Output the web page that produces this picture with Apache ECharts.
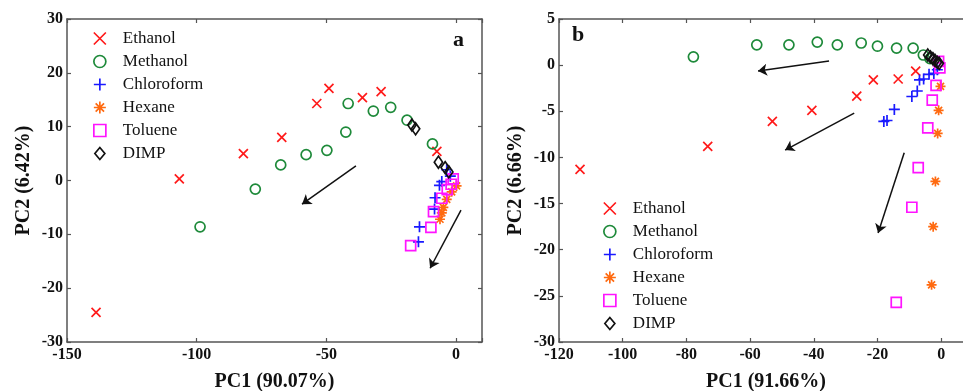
<!DOCTYPE html>
<html><head><meta charset="utf-8">
<script src="https://cdn.jsdelivr.net/npm/echarts@6/dist/echarts.min.js"></script>
<style>html,body{margin:0;padding:0;background:#fff}#c{width:963px;height:391px}</style>
</head><body><div id="c"></div>
<script>
const seriesNames = ['Ethanol', 'Methanol', 'Chloroform', 'Hexane', 'Toluene', 'DIMP'];
const panelLetters = ['a', 'b'];
const xTitles = ['PC1 (90.07%)', 'PC1 (91.66%)'];
const yTitles = ['PC2 (6.42%)', 'PC2 (6.66%)'];
// axis ranges [min, max, interval]
const xRangeA = [-150, 10, 50];
const yRangeA = [-30, 30, 10];
const xRangeB = [-120, 10, 20];
const yRangeB = [-30, 5, 5];

// ---- panel a ----
const ethanolA = [[-138.8, -24.5], [-106.7, 0.3], [-82.0, 5.0], [-67.2, 8.0], [-53.7, 14.3], [-49.0, 17.1], [-36.1, 15.4], [-28.9, 16.5], [-7.4, 5.4]];
const methanolA = [[-98.7, -8.6], [-77.4, -1.6], [-67.6, 2.9], [-57.8, 4.8], [-49.8, 5.6], [-42.5, 9.0], [-41.6, 14.3], [-31.9, 12.9], [-25.2, 13.6], [-18.9, 11.2], [-9.1, 6.8]];
const chloroformA = [[-14.5, -11.4], [-14.1, -8.6], [-8.3, -5.3], [-8.1, -3.2], [-6.4, -0.9], [-5.5, -0.2], [-3.6, 2.0], [-2.2, 0.8]];
const hexaneA = [[-6.2, -7.2], [-5.5, -6.0], [-4.9, -5.0], [-3.6, -3.5], [-1.7, -2.1], [0.2, -1.0]];
const tolueneA = [[-17.5, -12.1], [-9.7, -8.7], [-8.7, -5.8], [-5.5, -3.3], [-3.4, -1.7], [-1.9, -0.7], [-1.1, 0.3]];
const dimpA = [[-17.0, 10.3], [-15.6, 9.6], [-6.8, 3.4], [-4.2, 2.4], [-2.8, 1.6]];
const arrowsA = [[[-38.6, 2.7], [-59.4, -4.4]], [[1.9, -5.5], [-10.0, -16.3]]];

// ---- panel b ----
const ethanolB = [[-113.4, -11.3], [-73.3, -8.8], [-53.0, -6.1], [-40.6, -4.9], [-26.5, -3.35], [-21.3, -1.6], [-13.5, -1.5], [-8.0, -0.65]];
const methanolB = [[-77.8, 0.9], [-57.9, 2.2], [-47.8, 2.2], [-38.9, 2.5], [-32.6, 2.2], [-25.1, 2.4], [-20.0, 2.05], [-14.0, 1.85], [-8.8, 1.85], [-5.6, 1.1], [-3.5, 0.7]];
const chloroformB = [[-18.0, -6.1], [-17.0, -6.0], [-14.7, -4.8], [-9.2, -3.4], [-7.5, -2.8], [-6.8, -1.6], [-5.5, -1.5], [-3.8, -1.0], [-2.3, -0.9], [-1.2, -0.5]];
const hexaneB = [[-0.2, -2.3], [-0.8, -4.9], [-1.1, -7.4], [-1.8, -12.6], [-2.5, -17.5], [-3.0, -23.8]];
const tolueneB = [[-0.4, -0.3], [-0.8, 0.4], [-1.6, -2.2], [-2.8, -3.8], [-4.2, -6.8], [-7.2, -11.1], [-9.2, -15.4], [-14.1, -25.7]];
const dimpB = [[-4.2, 1.1], [-3.4, 0.9], [-2.6, 0.7], [-1.9, 0.5], [-1.2, 0.3], [-0.6, 0.2]];
const arrowsB = [[[-35.2, 0.44], [-57.5, -0.64]], [[-27.3, -5.2], [-49.0, -9.2]], [[-11.6, -9.5], [-19.8, -18.2]]];

const FONT = "'Liberation Serif', 'Times New Roman', serif";
const FRAME = '#555';
const styles = {
  Ethanol:    { symbol: 'path://M0,0L10,10M10,0L0,10', color: '#ff1a1a', size: 9 },
  Methanol:   { symbol: 'circle', color: '#1e8a3a', size: 10 },
  Chloroform: { symbol: 'path://M5,0L5,10M0,5L10,5', color: '#1a1aff', size: 11 },
  Hexane:     { symbol: 'path://M5,0L5,10M0,5L10,5M1.5,1.5L8.5,8.5M8.5,1.5L1.5,8.5', color: '#ff6a10', size: 10 },
  Toluene:    { symbol: 'path://M0,0L10,0L10,10L0,10Z', color: '#ff14ff', size: 10 },
  DIMP:       { symbol: 'path://M5,0L10,6L5,12L0,6Z', color: '#111', size: [10, 12] }
};

const grids = [
  { left: 67, top: 19, width: 415, height: 323, outerBoundsMode: 'none', containLabel: false },
  { left: 559, top: 19, width: 414, height: 323, outerBoundsMode: 'none', containLabel: false }
];

function mkX(range, gi, pos, title) {
  const main = pos === 'bottom';
  return {
    type: 'value', gridIndex: gi, position: pos, min: range[0], max: range[1], interval: range[2],
    name: main ? title : '', nameLocation: 'middle', nameGap: 30,
    nameTextStyle: { fontFamily: FONT, fontWeight: 'bold', fontSize: 20, color: '#111' },
    axisLine: { show: true, onZero: false, lineStyle: { color: FRAME, width: 1.5 } },
    axisTick: { show: true, inside: true, length: 4, lineStyle: { color: FRAME, width: 1.2 } },
    axisLabel: {
      show: main, margin: 5, fontFamily: FONT, fontWeight: 'bold', fontSize: 16, color: '#111',
      formatter: v => (v > 0 ? '' : String(v))
    },
    splitLine: { show: false }
  };
}
function mkY(range, gi, pos, title) {
  const main = pos === 'left';
  return {
    type: 'value', gridIndex: gi, position: pos, min: range[0], max: range[1], interval: range[2],
    name: main ? title : '', nameLocation: 'middle', nameGap: 33,
    nameTextStyle: { fontFamily: FONT, fontWeight: 'bold', fontSize: 20, color: '#111' },
    axisLine: { show: true, onZero: false, lineStyle: { color: FRAME, width: 1.5 } },
    axisTick: { show: true, inside: true, length: 4, lineStyle: { color: FRAME, width: 1.2 } },
    axisLabel: { show: main, margin: 4, fontFamily: FONT, fontWeight: 'bold', fontSize: 16, color: '#111' },
    splitLine: { show: false }
  };
}

const xAxes = [
  mkX(xRangeA, 0, 'bottom', xTitles[0]), mkX(xRangeA, 0, 'top'),
  mkX(xRangeB, 1, 'bottom', xTitles[1]), mkX(xRangeB, 1, 'top')
];
const yAxes = [
  mkY(yRangeA, 0, 'left', yTitles[0]), mkY(yRangeA, 0, 'right'),
  mkY(yRangeB, 1, 'left', yTitles[1]), mkY(yRangeB, 1, 'right')
];

const panelData = [
  [ethanolA, methanolA, chloroformA, hexaneA, tolueneA, dimpA],
  [ethanolB, methanolB, chloroformB, hexaneB, tolueneB, dimpB]
];
const series = [];
panelData.forEach((sets, p) => {
  sets.forEach((d, i) => {
    const st = styles[seriesNames[i]];
    series.push({
      type: 'scatter', name: seriesNames[i], xAxisIndex: p * 2, yAxisIndex: p * 2,
      data: d, symbol: st.symbol, symbolSize: st.size, symbolKeepAspect: true,
      itemStyle: { color: 'rgba(0,0,0,0)', borderColor: st.color, borderWidth: 1.7, opacity: 1 },
      emphasis: { disabled: true }, z: 3
    });
  });
});
[arrowsA, arrowsB].forEach((arr, p) => {
  series.push({
    type: 'lines', coordinateSystem: 'cartesian2d', xAxisIndex: p * 2, yAxisIndex: p * 2,
    data: arr.map(c => ({ coords: c })),
    symbol: ['none', 'arrow'], symbolSize: [0, 9],
    lineStyle: { color: '#111', width: 1.5, opacity: 1 }, z: 2, silent: true
  });
});

function mkLegend(left, top) {
  return {
    data: seriesNames, orient: 'vertical', left: left, top: top,
    itemWidth: 36, itemHeight: 12, itemGap: 6, selectedMode: false,
    symbolKeepAspect: true,
    itemStyle: { borderWidth: 1.7 },
    textStyle: { fontFamily: FONT, fontSize: 17, color: '#111' }
  };
}

const chart = echarts.init(document.getElementById('c'), null, { renderer: 'canvas' });
chart.setOption({
  animation: false,
  backgroundColor: '#fff',
  grid: grids,
  xAxis: xAxes,
  yAxis: yAxes,
  legend: [mkLegend(88, 25), mkLegend(598, 195)],
  graphic: [
    { type: 'text', left: 453, top: 29, style: { text: panelLetters[0], font: "bold 22px " + FONT, fill: '#111' } },
    { type: 'text', left: 572, top: 24, style: { text: panelLetters[1], font: "bold 22px " + FONT, fill: '#111' } }
  ],
  series: series
});
</script>
</body></html>
